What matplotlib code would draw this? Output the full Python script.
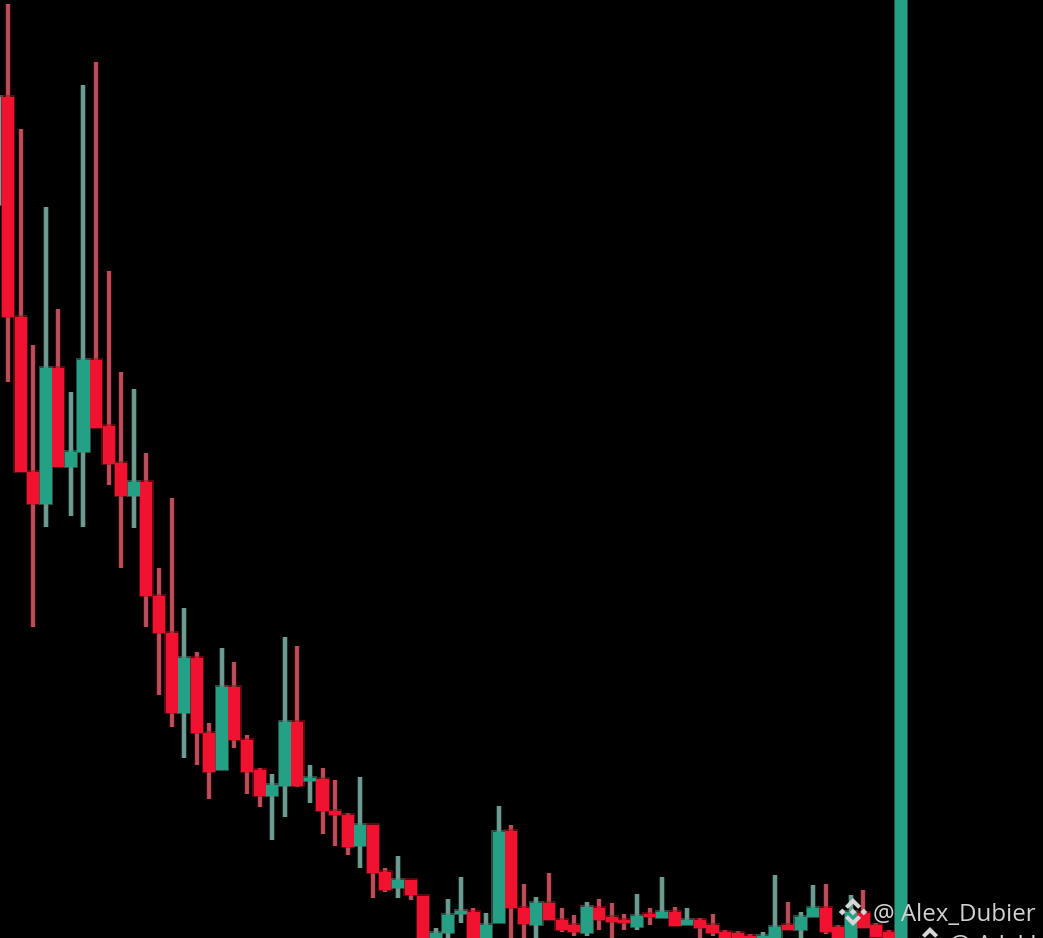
import matplotlib
matplotlib.use('Agg')
import matplotlib.pyplot as plt
from matplotlib.patches import Polygon

candle_index = list(range(-1, 72))
body_top = [97, 97, 317, 472, 368, 368, 452, 360, 360, 426, 463, 482, 482, 596, 633, 658, 658, 733, 687, 687, 740,
            770, 785, 722, 722, 778, 779, 811, 815, 825, 825, 872, 880, 880, 896, 933, 915, 911, 912, 925, 832,
            831, 908, 903, 903, 920, 925, 907, 908, 917, 920, 916, 914, 912, 912, 920, 920, 925, 932, 933, 936,
            936, 927, 925, 917, 908, 908, 927, 912, 913, 925, 932, -10]
body_bottom = [205, 317, 472, 504, 504, 467, 467, 452, 428, 464, 496, 496, 596, 633, 713, 713, 733, 772, 770, 740,
               772, 796, 796, 786, 786, 781, 811, 815, 847, 846, 873, 890, 888, 895, 945, 945, 933, 914, 945, 945,
               923, 908, 924, 925, 920, 930, 932, 933, 920, 922, 923, 927, 917, 918, 926, 925, 928, 933, 938, 940,
               945, 938, 938, 930, 930, 917, 932, 938, 945, 928, 937, 945, 950]
wick_high = [97, 4, 129, 345, 207, 309, 392, 85, 62, 271, 372, 389, 453, 568, 498, 608, 652, 723, 648, 662, 735,
             768, 774, 637, 646, 765, 768, 780, 813, 777, 825, 868, 856, 880, 896, 928, 899, 877, 908, 913, 806,
             825, 884, 897, 873, 908, 915, 902, 899, 903, 914, 894, 908, 877, 907, 908, 918, 914, 930, 931, 934,
             932, 875, 902, 912, 885, 884, 925, 895, 890, 923, 930, -10]
wick_low = [205, 382, 472, 627, 527, 467, 516, 527, 428, 485, 568, 528, 627, 695, 727, 758, 765, 799, 770, 748,
            794, 807, 840, 817, 787, 803, 834, 846, 855, 868, 898, 892, 898, 900, 945, 945, 945, 923, 945, 945,
            923, 945, 945, 945, 920, 932, 936, 936, 930, 945, 930, 930, 925, 918, 926, 925, 945, 936, 945, 945,
            945, 938, 938, 930, 938, 917, 934, 938, 945, 928, 937, 945, 950]
is_up = [1, 0, 0, 0, 1, 0, 1, 1, 0, 0, 0, 1, 0, 0, 0, 1, 0, 0, 1, 0, 0,
         0, 1, 1, 0, 1, 0, 0, 0, 1, 0, 0, 1, 0, 0, 1, 1, 1, 0, 1, 1,
         0, 0, 1, 0, 0, 0, 1, 0, 0, 0, 1, 0, 1, 0, 1, 0, 0, 0, 0, 0,
         1, 1, 0, 1, 1, 0, 0, 1, 0, 0, 0, 1]
watermarks = ['@ Alex_Dubier', '@ A L I U']

red = '#f0122e'
red_edge = '#a5101f'
red_wick = '#b9505c'
teal = '#24a085'
teal_edge = '#4a8a7c'
teal_wick = '#6f9c92'

fig = plt.figure(figsize=(10.43, 9.38), dpi=100, facecolor='black')
ax = fig.add_axes([0, 0, 1, 1])
ax.set_facecolor('black')

for i in range(len(candle_index)):
    x = candle_index[i]
    if is_up[i]:
        c, edge, w = teal, teal_edge, teal_wick
    else:
        c, edge, w = red, red_edge, red_wick
    if i == 0:
        # mostly off the picture and washed out
        c = edge = w = '#8f9a90'
    # soft halo first, the video frame is blurred
    ax.vlines(x, wick_high[i], wick_low[i], color=edge, linewidth=4.4, alpha=0.35, zorder=2)
    ax.vlines(x, wick_high[i], wick_low[i], color=w, linewidth=2.8, zorder=2.1)
    ax.bar(x, body_bottom[i] - body_top[i] + 3, bottom=body_top[i] - 1.5, width=1.14, color=edge,
           linewidth=0, alpha=0.55, zorder=3)
    ax.bar(x, body_bottom[i] - body_top[i], bottom=body_top[i], width=0.96, color=c, linewidth=0, zorder=3.1)

ax.set_xlim(-0.636, 82.27)
ax.set_ylim(938, 0)
ax.axis('off')

# watermark on top, in picture pixels
over = fig.add_axes([0, 0, 1, 1])
over.set_xlim(0, 1043)
over.set_ylim(938, 0)
over.axis('off')
over.patch.set_alpha(0)


def binance_logo(cx, cy, r, color):
    s = r / 13
    small = [(0, -3.2), (3.2, 0), (0, 3.2), (-3.2, 0)]
    for dx, dy in [(0, 0), (-10, 0), (10, 0)]:
        pts = [(cx + (px + dx) * s, cy + (py + dy) * s) for px, py in small]
        over.add_patch(Polygon(pts, facecolor=color, edgecolor='none', zorder=6))
    chevron = [(0, -13), (7.5, -5.5), (4.8, -3), (0, -7.6), (-4.8, -3), (-7.5, -5.5)]
    for sign in [1, -1]:
        pts = [(cx + px * s, cy + sign * py * s) for px, py in chevron]
        over.add_patch(Polygon(pts, facecolor=color, edgecolor='none', zorder=6))


binance_logo(853, 912, 14, '#d6d6d6')
binance_logo(930, 941, 14, '#d6d6d6')
over.text(873, 921, watermarks[0], color='#d2d2d2', fontsize=17.4, family='Open Sans', va='baseline', zorder=6)
over.text(949, 952, watermarks[1], color='#d2d2d2', fontsize=17.4, family='Open Sans', va='baseline', zorder=6,
          clip_on=True)

fig.savefig('out.png', dpi=100, facecolor='black')
